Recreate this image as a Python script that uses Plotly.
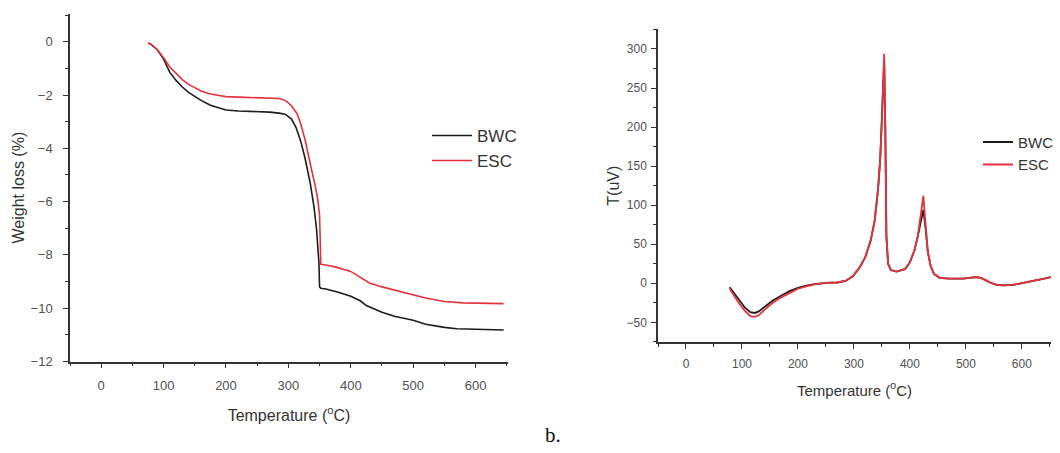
import plotly.graph_objects as go

# ---------------- TGA data (left panel) ----------------
tga_temp_bwc = [75, 80, 90, 100, 110, 120, 130, 140, 150, 160, 175, 190, 200, 220, 250, 270, 285, 295,
                305, 312, 320, 327, 335, 341, 345, 348, 349, 350, 352, 360, 380, 400, 415, 425, 435,
                450, 470, 500, 520, 550, 570, 600, 645]
tga_bwc = [-0.05, -0.1, -0.3, -0.65, -1.15, -1.45, -1.7, -1.9, -2.05, -2.2, -2.38, -2.5, -2.56, -2.6,
           -2.62, -2.64, -2.68, -2.72, -2.9, -3.2, -3.75, -4.4, -5.3, -6.2, -7.0, -7.9, -8.3, -9.2,
           -9.25, -9.28, -9.4, -9.55, -9.72, -9.9, -10.0, -10.15, -10.3, -10.45, -10.6, -10.72,
           -10.77, -10.8, -10.82]

tga_temp_esc = [75, 80, 90, 100, 110, 120, 130, 140, 150, 160, 175, 190, 200, 220, 250, 270, 285, 295,
                305, 314, 320, 327, 333, 339, 343, 347, 350, 351, 352, 360, 375, 400, 415, 430, 450,
                470, 500, 520, 550, 580, 645]
tga_esc = [-0.05, -0.1, -0.3, -0.6, -0.95, -1.2, -1.42, -1.6, -1.74, -1.85, -1.96, -2.03, -2.06, -2.08,
           -2.1, -2.1, -2.13, -2.2, -2.4, -2.7, -3.1, -3.7, -4.4, -5.0, -5.4, -5.9, -6.5, -7.5, -8.35,
           -8.38, -8.45, -8.62, -8.85, -9.05, -9.2, -9.32, -9.5, -9.62, -9.75, -9.8, -9.83]

# ---------------- DTA data (right panel) ----------------
dta_temp = [78, 85, 95, 105, 115, 123, 130, 140, 155, 170, 185, 200, 215, 230, 250, 270, 285, 298, 310,
            320, 330, 337, 343, 347, 350, 352, 354, 356, 358, 361, 366, 376, 391, 400, 408, 414, 419,
            424, 428, 432, 437, 443, 453, 470, 495, 519, 530, 543, 555, 566, 585, 602, 620, 640, 652]
dta_bwc = [-5, -12, -22, -31, -37, -38, -36, -30, -22, -16, -10, -6, -3, -1, 0.5, 1, 3, 9, 20,
           33, 55, 80, 120, 160, 205, 245, 285, 200, 60, 25, 17, 15, 18, 27, 42, 60, 78,
           94, 70, 40, 22, 12, 7, 6, 6, 8, 6, 1, -2, -2.5, -2, 0, 3, 6, 8]
dta_esc = [-7, -15, -26, -35, -42, -43, -41, -34, -25, -18, -12, -7, -4, -1.5, 0.5, 1, 3, 9, 20,
           33, 55, 80, 120, 160, 210, 255, 294, 200, 60, 25, 17, 15, 18, 27, 42, 60, 85,
           112, 75, 40, 22, 12, 7, 6, 6, 8, 6, 1, -2, -2.5, -2, 0, 3, 6, 8]

BLACK = "#1c1c1c"
RED = "#e5323c"
W = 1060
H = 453
FAM = "Liberation Sans, Arial, sans-serif"

fig = go.Figure()
fig.add_trace(go.Scatter(x=tga_temp_bwc, y=tga_bwc, mode="lines", name="BWC",
                         line=dict(color=BLACK, width=1.6), xaxis="x", yaxis="y",
                         legend="legend", legendgroup="a"))
fig.add_trace(go.Scatter(x=tga_temp_esc, y=tga_esc, mode="lines", name="ESC",
                         line=dict(color=RED, width=1.6), xaxis="x", yaxis="y",
                         legend="legend", legendgroup="b"))
fig.add_trace(go.Scatter(x=dta_temp, y=dta_bwc, mode="lines", name="BWC",
                         line=dict(color=BLACK, width=1.8), xaxis="x2", yaxis="y2",
                         legend="legend2", legendgroup="c"))
fig.add_trace(go.Scatter(x=dta_temp, y=dta_esc, mode="lines", name="ESC",
                         line=dict(color=RED, width=1.8), xaxis="x2", yaxis="y2",
                         legend="legend2", legendgroup="d"))


def tf(size):
    return dict(family=FAM, size=size, color="#505050")


def ttl(size):
    return dict(family=FAM, size=size, color="#333333")


axis_common = dict(showline=True, linecolor="#333333", linewidth=1.5, showgrid=False, zeroline=False,
                   ticks="outside", ticklen=5, tickwidth=1.3, tickcolor="#333333", mirror=False)

fig.update_layout(
    width=W, height=H,
    margin=dict(l=0, r=0, t=0, b=0),
    paper_bgcolor="white", plot_bgcolor="white",
    font=dict(family=FAM),
    xaxis=dict(domain=[70 / W, 508 / W], range=[-50, 652], dtick=100, tick0=0,
               minor=dict(dtick=50, ticks="outside", ticklen=3, tickcolor="#333333"),
               tickfont=tf(13), ticklabelstandoff=6,
               title=dict(text="Temperature (<sup>o</sup>C)", font=ttl(16), standoff=18),
               anchor="y", **axis_common),
    yaxis=dict(domain=[1 - 368 / H, 1 - 14 / H], range=[-12, 1.05], dtick=2, tick0=0,
               minor=dict(dtick=1, ticks="outside", ticklen=3, tickcolor="#333333"),
               tickfont=tf(13), ticklabelstandoff=8,
               title=dict(text="Weight loss (%)", font=ttl(16), standoff=2),
               anchor="x", **axis_common),
    xaxis2=dict(domain=[658 / W, 1051 / W], range=[-50, 652], dtick=100, tick0=0,
                minor=dict(dtick=50, ticks="outside", ticklen=3, tickcolor="#333333"),
                tickfont=tf(12), ticklabelstandoff=5,
                title=dict(text="Temperature (<sup>o</sup>C)", font=ttl(15), standoff=15),
                anchor="y2", **axis_common),
    yaxis2=dict(domain=[1 - 348 / H, 1 - 30 / H], range=[-75, 325], dtick=50, tick0=0,
                minor=dict(dtick=25, ticks="outside", ticklen=3, tickcolor="#333333"),
                tickfont=tf(12), ticklabelstandoff=2,
                title=dict(text="T(uV)", font=ttl(16), standoff=3),
                anchor="x2", **axis_common),
    legend=dict(x=427 / W, y=1 - 120 / H, xanchor="left", yanchor="top",
                font=dict(family=FAM, size=17, color="#333333"), bgcolor="rgba(0,0,0,0)",
                itemwidth=40, tracegroupgap=0, traceorder="grouped"),
    legend2=dict(x=978 / W, y=1 - 128 / H, xanchor="left", yanchor="top",
                 font=dict(family=FAM, size=15, color="#333333"), bgcolor="rgba(0,0,0,0)",
                 itemwidth=30, tracegroupgap=0, traceorder="grouped"),
    showlegend=True,
    annotations=[dict(text="b.", x=553 / W, y=1 - 443 / H, xref="paper", yref="paper",
                      showarrow=False, xanchor="center", yanchor="middle",
                      font=dict(family="Liberation Serif, Times New Roman, serif", size=21,
                                color="#111111"))],
)

fig.write_html("out.html")
